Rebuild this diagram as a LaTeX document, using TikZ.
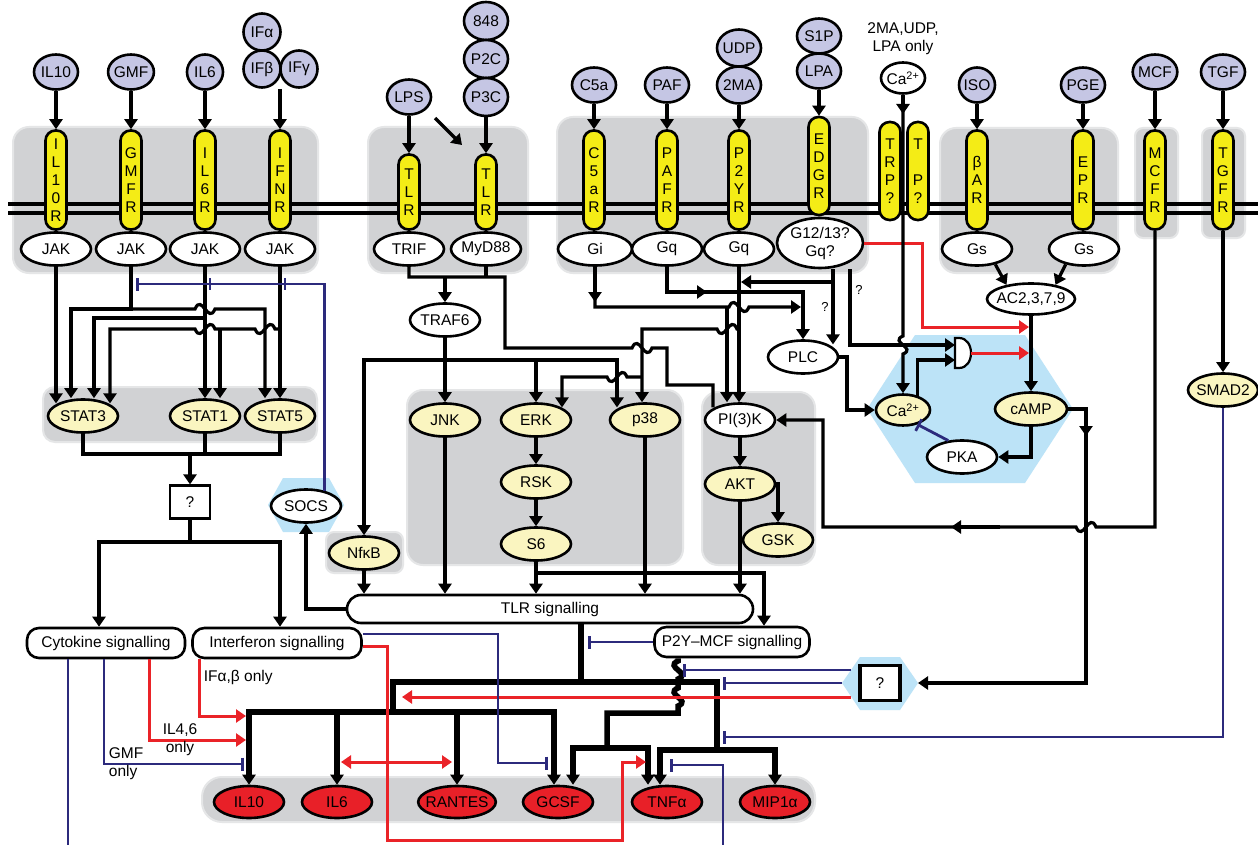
\documentclass[tikz,border=0pt]{standalone}
\usepackage{fontspec}
\setmainfont{Liberation Sans}
\usetikzlibrary{arrows.meta, shapes.geometric}
\definecolor{panelgray}{RGB}{209,210,212}
\definecolor{panelrim}{RGB}{229,230,231}
\definecolor{recyel}{RGB}{244,236,22}
\definecolor{ligcol}{RGB}{197,198,228}
\definecolor{kincol}{RGB}{250,245,192}
\definecolor{hexblue}{RGB}{188,227,247}
\definecolor{cytred}{RGB}{232,32,40}
\definecolor{actred}{RGB}{234,35,40}
\definecolor{inhblue}{RGB}{44,42,124}
\tikzset{
  panel/.style={fill=panelgray, draw=panelrim, line width=2pt, rounded corners=16pt},
  lig/.style={ellipse, draw, fill=ligcol, line width=2.6pt, inner sep=0pt, inner xsep=-1pt, minimum width=44pt, minimum height=35pt},
  rec/.style={rectangle, rounded corners=10pt, draw, fill=recyel, line width=2.6pt, inner sep=0pt, minimum width=21pt, minimum height=99pt, align=center},
  adp/.style={ellipse, draw, fill=white, line width=2.6pt, inner sep=0pt, inner xsep=-1pt, minimum width=70pt, minimum height=33pt},
  kin/.style={adp, fill=kincol},
  cyt/.style={adp, fill=cytred, minimum height=32pt},
  sig/.style={rectangle, rounded corners=12pt, draw, fill=white, line width=2.6pt, minimum height=30pt},
  hex/.style={fill=hexblue},
  inh/.style={inhblue, line width=2.8pt, -{Bar[width=13pt]}},
  act/.style={actred, line width=3pt, ->},
  fat/.style={line width=5.5pt, ->},
  hwig/.style 2 args={insert path={-- (#1-10,#2) .. controls (#1-3,#2-16) and (#1+3,#2+16) .. (#1+10,#2)}},
  hwigl/.style 2 args={insert path={-- (#1+10,#2) .. controls (#1+3,#2-16) and (#1-3,#2+16) .. (#1-10,#2)}},
  vwig/.style 2 args={insert path={-- (#1,#2-9) .. controls (#1-14,#2-3) and (#1+14,#2+3) .. (#1,#2+9)}}
}
\begin{document}
\begin{tikzpicture}[x=1pt, y=-1pt, line width=3.2pt, >={Triangle[length=10pt,width=13pt]}, font=\fontsize{15.5}{18}\selectfont]
\fill[white] (0,0) rectangle (1258,845);
\useasboundingbox (0,0) rectangle (1258,845);

\draw[panel] (13,127) rectangle (318,273);
\draw[panel] (368,127) rectangle (528,273);
\draw[panel] (557,117) rectangle (868,273);
\draw[panel] (940,128) rectangle (1118,273);
\draw[panel, rounded corners=8pt] (1135,128) rectangle (1178,238);
\draw[panel, rounded corners=8pt] (1202,128) rectangle (1245,238);
\draw[panel, rounded corners=12pt] (43,387) rectangle (317,442);
\draw[panel] (407,390) rectangle (683,565);
\draw[panel] (702,392) rectangle (815,565);
\draw[panel, rounded corners=8pt] (326,532) rectangle (403,573);
\draw[panel, rounded corners=20pt] (202,777) rectangle (815,822);

\fill[hex] (268,505) -- (283,478) -- (329,478) -- (344,505) -- (329,532) -- (283,532) -- cycle;
\fill[hex] (867,409) -- (915,335) -- (1025,335) -- (1073,409) -- (1025,483) -- (915,483) -- cycle;
\fill[hex] (842,683) -- (860,657) -- (900,657) -- (918,683) -- (900,710) -- (860,710) -- cycle;
\coordinate (hq1) at (851,670);
\coordinate (hq2) at (842,683);
\coordinate (hq3) at (851,697);
\coordinate (hqR) at (918,683);

\draw (8,204) -- (1258,204) (8,213) -- (1258,213);

\node[lig] (lIL10) at (56,72) {IL10};
\node[lig] (lGMF) at (131,72) {GMF};
\node[lig, minimum width=36pt] (lIL6) at (205,72) {IL6};
\node[lig, minimum width=37pt, minimum height=37pt] (lIFa) at (262,32) {IFα};
\node[lig, minimum width=37pt, minimum height=37pt] (lIFb) at (262,69) {IFβ};
\node[lig, minimum width=37pt, minimum height=37pt] (lIFg) at (299,69) {IFγ};
\node[lig] (lLPS) at (409,97) {LPS};
\node[lig, minimum height=38pt] (l848) at (486,21) {848};
\node[lig, minimum height=38pt] (lP2C) at (486,59) {P2C};
\node[lig, minimum height=38pt] (lP3C) at (486,97) {P3C};
\node[lig] (lC5a) at (594,85) {C5a};
\node[lig] (lPAF) at (667,85) {PAF};
\node[lig, minimum height=37pt] (lUDP) at (739,48) {UDP};
\node[lig, minimum height=37pt] (l2MA) at (739,85) {2MA};
\node[lig] (lS1P) at (819,36) {S1P};
\node[lig] (lLPA) at (819,71) {LPA};
\node[lig, fill=white, minimum height=31pt] (lCa) at (903,78) {Ca\textsuperscript{2+}};
\node[align=center] (lCanote) at (903,39) {2MA,UDP,\\LPA only};
\node[lig, minimum width=36pt] (lISO) at (977,85) {ISO};
\node[lig] (lPGE) at (1083,85) {PGE};
\node[lig] (lMCF) at (1155,72) {MCF};
\node[lig] (lTGF) at (1223,72) {TGF};

\node[rec] (rIL10) at (56,180) {I\\L\\1\\0\\R};
\node[rec] (rGMF) at (131,180) {G\\M\\F\\R};
\node[rec] (rIL6) at (205,180) {I\\L\\6\\R};
\node[rec] (rIFN) at (280,180) {I\\F\\N\\R};
\node[rec, minimum height=75pt] (rTLR1) at (409,192) {T\\L\\R};
\node[rec, minimum height=75pt] (rTLR2) at (486,192) {T\\L\\R};
\node[rec] (rC5a) at (594,180) {C\\5\\a\\R};
\node[rec] (rPAF) at (667,180) {P\\A\\F\\R};
\node[rec] (rP2Y) at (739,180) {P\\2\\Y\\R};
\node[rec, minimum height=98pt] (rEDG) at (819,166) {E\\D\\G\\R};
\node[rec, minimum height=98pt] (rTRP) at (890,171) {T\\R\\P\\?};
\node[rec, minimum height=98pt] (rTP) at (918,171) {T\\\mbox{}\\P\\?};
\node[rec] (rBAR) at (977,180) {β\\A\\R};
\node[rec] (rEP) at (1083,180) {E\\P\\R};
\node[rec] (rMCF) at (1155,180) {M\\C\\F\\R};
\node[rec] (rTGF) at (1223,180) {T\\G\\F\\R};

\node[adp] (JAK1) at (56,249) {JAK};
\node[adp] (JAK2) at (131,249) {JAK};
\node[adp] (JAK3) at (205,249) {JAK};
\node[adp] (JAK4) at (280,249) {JAK};
\node[adp] (TRIF) at (409,249) {TRIF};
\node[adp] (MyD88) at (486,249) {MyD88};
\node[adp, minimum width=74pt] (Gi) at (595,249) {Gi};
\node[adp] (Gq1) at (667,249) {Gq};
\node[adp] (Gq2) at (739,249) {Gq};
\node[adp, align=center, minimum width=86pt, minimum height=50pt] (G1213) at (820,243) {G12/13?\\Gq?};
\node[adp] (Gs1) at (977,249) {Gs};
\node[adp] (Gs2) at (1084,249) {Gs};
\node[adp, inner xsep=-6pt, minimum width=88pt, minimum height=31pt] (AC) at (1031,299) {AC2,3,7,9};
\node[adp] (TRAF6) at (445,320) {TRAF6};
\node[adp] (PLC) at (803,357) {PLC};

\node[kin] (STAT3) at (83,416) {STAT3};
\node[kin] (STAT1) at (205,416) {STAT1};
\node[kin] (STAT5) at (280,416) {STAT5};
\node[kin] (JNK) at (445,420) {JNK};
\node[kin] (ERK) at (536,420) {ERK};
\node[kin] (p38) at (645,420) {p38};
\node[adp] (PI3K) at (740,420) {PI(3)K};
\node[kin] (RSK) at (536,482) {RSK};
\node[kin] (S6) at (536,544) {S6};
\node[kin] (AKT) at (740,484) {AKT};
\node[kin] (GSK) at (778,540) {GSK};
\node[kin] (NfkB) at (364,553) {NfκB};
\node[adp] (SOCS) at (306,506) {SOCS};
\node[kin, minimum width=54pt, minimum height=31pt] (Ca2) at (903,410) {Ca\textsuperscript{2+}};
\node[kin, minimum width=72pt] (cAMP) at (1031,409) {cAMP};
\node[adp] (PKA) at (962,457) {PKA};
\node[kin, inner xsep=-2pt] (SMAD2) at (1223,390) {SMAD2};
\draw[line width=2.2pt, fill=white] (955,338) -- (959,338) .. controls (975,338) and (975,368) .. (959,368) -- (955,368) -- cycle;

\node[draw, fill=white, line width=2.2pt, minimum width=40pt, minimum height=33pt] (qbox) at (190,502) {?};
\node[draw, fill=white, line width=3.2pt, minimum width=40pt, minimum height=35pt] (qbox2) at (880,683) {?};

\node[sig, minimum width=158pt] (cytsig) at (106,643) {Cytokine signalling};
\node[sig, minimum width=169pt] (ifnsig) at (277,643) {Interferon signalling};
\node[sig, minimum width=406pt, minimum height=28pt, rounded corners=14pt] (tlrsig) at (550,609) {TLR signalling};
\node[sig, minimum width=155pt] (p2ysig) at (732,642) {P2Y\textendash MCF signalling};

\node[cyt] (IL10c) at (249,802) {IL10};
\node[cyt] (IL6c) at (337,802) {IL6};
\node[cyt, inner xsep=-4pt, minimum width=77pt] (RANTES) at (457,802) {RANTES};
\node[cyt] (GCSF) at (558,802) {GCSF};
\node[cyt] (TNFa) at (667,802) {TNFα};
\node[cyt] (MIP1a) at (775,802) {MIP1α};

\coordinate (d1) at (435,118);
\coordinate (d2) at (462,145);
\draw[->] (lIL10) -- (rIL10);
\draw[->] (lGMF) -- (rGMF);
\draw[->] (lIL6) -- (rIL6);
\draw[->] (rIFN.north |- lIFg.south) -- (rIFN);
\draw[->] (lLPS) -- (rTLR1);
\draw[->] (d1) -- (d2);
\draw[->] (lP3C) -- (rTLR2);
\draw[->] (lC5a) -- (rC5a);
\draw[->] (lPAF) -- (rPAF);
\draw[->] (l2MA) -- (rP2Y);
\draw[->] (lLPA) -- (rEDG);
\draw[->] (lISO) -- (rBAR);
\draw[->] (lPGE) -- (rEP);
\draw[->] (lMCF) -- (rMCF);
\draw[->] (lTGF) -- (rTGF);

\draw[->] (JAK1) -- (JAK1 |- STAT3.north west);
\draw[->] (JAK2) |- (71,309) -- (71,0 |- STAT3.north);
\draw[->] (131,309) [hwig={205}{309}] -- (265,309) -- (265,0 |- STAT5.north);
\draw[->] (JAK3) -- (STAT1);
\draw[->] (205,318) -| (94,0 |- STAT3.north);
\draw[->] (JAK4) -- (STAT5);
\draw[->] (280,329) [hwigl={265}{329}] -- (220,329) [hwigl={205}{329}] -| (110,0 |- STAT3.north east);
\draw[->] (220,329) -- (220,0 |- STAT1.north);
\draw (STAT3) -- (83,454) -- (280,454) -- (STAT5);
\draw (STAT1) -- (205,454);
\draw[->] (190,454) -- (qbox);
\draw[->] (qbox) |- (99,542) -- (99,0 |- cytsig.north);
\draw[->] (190,542) -| (280,0 |- ifnsig.north);
\draw[inh] (SOCS.40) |- (136,284);
\draw[inhblue, line width=2.8pt] (210,278) -- (210,290) (285,278) -- (285,290);
\draw[->] (tlrsig.west) -| (SOCS);

\draw (TRIF) |- (505,277) -- (505,348) [hwig={642}{348}] -- (667,348) -- (667,385) -| (713,0 |- PI3K.north west);
\draw (MyD88) -- (486,277);
\draw[->] (445,277) -- (TRAF6);
\draw[->] (TRAF6) -- (JNK);
\draw[->] (445,360) -| (NfkB);
\draw[->] (445,360) -| (ERK);
\draw[->] (536,360) -| (617,0 |- p38.north west);
\draw[->] (Gq2) -- (Gq2 |- PI3K.north);
\draw[->] (739,329) [hwigl={727}{329}] -| (642,0 |- p38.north);
\draw[->] (642,377) [hwigl={617}{377}] -| (562,0 |- ERK.north east);
\draw[->] (Gi) -- (595,302);
\draw[->] (595,298) |- (727,307) [hwig={739}{307}] -- (801,307);
\draw[->] (727,307) -- (727,0 |- PI3K.north);
\draw[->] (Gq1) |- (803,292) -- (PLC);
\draw[->] (667,292) -- (707,292);
\draw[->] (833,0 |- G1213.south) -- (833,0 |- PLC.north east);
\draw[->] (833,282) -- (741,282);
\node[font=\fontsize{13}{15}\selectfont] (qm1) at (825,307) {?};
\node[font=\fontsize{13}{15}\selectfont] (qm2) at (859,290) {?};
\draw[->] (850,0 |- G1213.south) |- (955,345);
\draw[act] (G1213.east) -- (922,0 |- G1213.east) |- (1029,327);
\draw[act] (971,353) -- (1029,353);
\draw[->] (PLC.east) -| (847,410) -- (Ca2);
\draw[->] (Ca2.45) |- (955,360);
\draw[->] (lCa) -- ++(0,36);
\draw[->] (lCa) -- (903,336) [vwig={903}{345}] -- (Ca2);
\draw[->] (AC) -- (cAMP);
\draw[->] (Gs1.-40) -- (AC.150);
\draw[->] (Gs2.-140) -- (AC.30);
\draw[->] (cAMP) |- (PKA);
\draw[inh] (PKA.130) -- (Ca2.-45);
\draw[->] (cAMP.east) -| (1086,436);
\draw[->] (cAMP.east) -| (1086,683) -- (hqR);
\draw[->] (rMCF) |- (1096,527) [hwigl={1086}{527}] -- (823,527) |- (PI3K);
\draw[->] (1000,527) -- (951,527);
\draw[->] (rTGF) -- (SMAD2);
\draw[inh] (SMAD2) |- (723,737);

\draw[->] (NfkB) -- (NfkB |- tlrsig.north);
\draw[->] (JNK) -- (JNK |- tlrsig.north);
\draw[->] (ERK) -- (RSK);
\draw[->] (RSK) -- (S6);
\draw[->] (S6) -- (S6 |- tlrsig.north);
\draw[->] (p38) -- (p38 |- tlrsig.north);
\draw[->] (PI3K) -- (AKT);
\draw[->] (AKT) -- (AKT |- tlrsig.north);
\draw[->, line width=3.8pt] (AKT.east) -| (GSK);
\draw[->] (536,573) -| (764,0 |- p2ysig.north);

\draw[fat, -] (581,0 |- tlrsig.south) -- (581,682);
\draw[inh] (p2ysig.west) -- (588,642);
\draw[fat, -] (393,712) -- (393,682) -- (717,682) -- (717,750);
\draw[fat] (393,712) -| (IL10c);
\draw[fat] (337,712) -- (IL6c);
\draw[fat] (393,712) -| (RANTES);
\draw[fat] (393,712) -| (554,0 |- GCSF.north);
\draw[fat] (717,750) -| (660,0 |- TNFa.north);
\draw[fat] (717,750) -| (MIP1a);
\draw[fat, -] (678,0 |- p2ysig.south) [vwig={678}{670}] [vwig={678}{697}] -- (678,713) -- (607,713) -- (607,748);
\draw[fat] (607,748) -| (573,0 |- GCSF.north);
\draw[fat] (607,748) -| (648,0 |- TNFa.north);
\draw[inh] (hq1) -- (683,670);
\draw[inh] (hq2) -- (723,683);
\draw[act] (hq3) -- (402,697);

\draw[inhblue, line width=2.8pt] (68,0 |- cytsig.south) -- (68,845);
\draw[inh] (104,0 |- cytsig.south) |- (244,764);
\node[anchor=west, align=left] (gmfnote) at (104,764) {GMF\\only};
\draw[act] (149,0 |- cytsig.south) |- (246,740);
\node[align=center] (ilnote) at (180,740) {IL4,6\\only};
\draw[act] (199,0 |- ifnsig.south) |- (246,716);
\node[anchor=west] (ifnote) at (199,677) {IFα,β only};
\draw[inh] (ifnsig.east |- 0,634) -| (498,763) -- (548,763);
\draw[act] (ifnsig.east |- 0,646) -| (387,840) -| (622,762) -- (646,762);
\draw[act, <->] (341,762) -- (452,762);
\draw[inh] (723,845) |- (670,765);
\end{tikzpicture}
\end{document}
